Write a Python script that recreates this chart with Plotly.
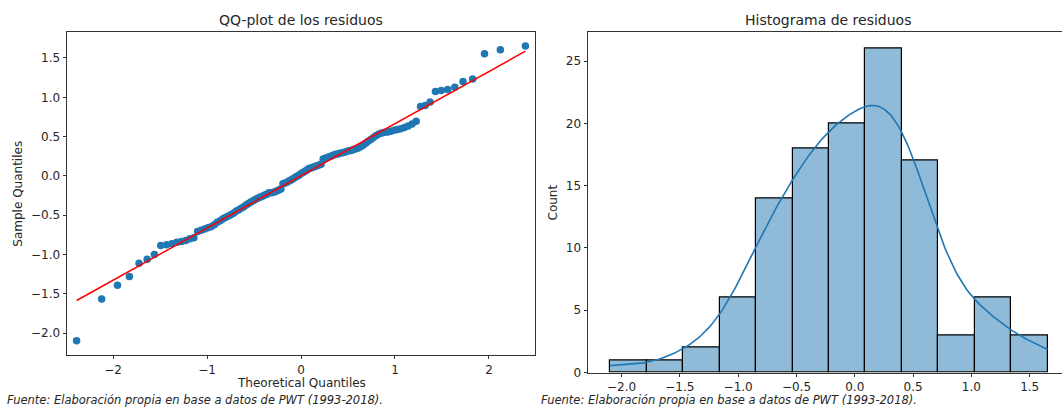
import numpy as np
import plotly.graph_objects as go
from statistics import NormalDist

# Sorted model residuals (n = 117)
residuals = [
    -2.095, -1.566, -1.39, -1.28, -1.11, -1.06, -1.00, -0.885, -0.875, -0.862,
    -0.842, -0.835, -0.822, -0.80, -0.785, -0.705, -0.69, -0.675, -0.66, -0.645,
    -0.62, -0.59, -0.57, -0.545,
    -0.525, -0.51, -0.49, -0.47, -0.445, -0.43, -0.41, -0.39, -0.37, -0.35,
    -0.33, -0.315, -0.30, -0.285, -0.27, -0.26, -0.245, -0.235,
    -0.218, -0.215, -0.21, -0.20, -0.19, -0.18, -0.165, -0.10, -0.09, -0.08,
    -0.065, -0.05, -0.035, -0.02, -0.005, 0.01, 0.03, 0.045, 0.06, 0.075,
    0.094, 0.10, 0.11, 0.12, 0.13, 0.14, 0.15, 0.215, 0.225, 0.235,
    0.245, 0.255, 0.265, 0.275, 0.28, 0.29, 0.295, 0.30, 0.31, 0.32,
    0.325, 0.335, 0.345, 0.355, 0.37, 0.39,
    0.415, 0.44, 0.465, 0.49, 0.515, 0.535, 0.545, 0.555, 0.56, 0.57,
    0.58, 0.59, 0.60, 0.615, 0.635, 0.66, 0.695,
    0.883, 0.896, 0.942,
    1.075, 1.088, 1.10, 1.129, 1.20, 1.233,
    1.554, 1.604, 1.654,
]
n_bins = 12

title_qq = "QQ-plot de los residuos"
title_hist = "Histograma de residuos"
source_note = "Fuente: Elaboración propia en base a datos de PWT (1993-2018)."

W, H = 1062, 412
FONT = "DejaVu Sans"
TXT = "#262626"
BLUE = "#1f77b4"

r = np.sort(np.asarray(residuals, dtype=float))
n = r.size

# Theoretical normal quantiles, plotting positions i/(n+1)
nd = NormalDist()
theo = np.array([nd.inv_cdf(i / (n + 1)) for i in range(1, n + 1)])

# Standardized reference line: mean + std * q
mu, sd = r.mean(), r.std(ddof=1)
line_x = np.array([theo[0], theo[-1]])
line_y = mu + sd * line_x

# Histogram counts and KDE scaled to counts
counts, edges = np.histogram(r, bins=n_bins)
centers = 0.5 * (edges[:-1] + edges[1:])
bw = edges[1] - edges[0]
h = sd * n ** (-1 / 5)
grid = np.linspace(r.min(), r.max(), 200)
dens = np.exp(-0.5 * ((grid[:, None] - r[None, :]) / h) ** 2).sum(axis=1) / (n * h * np.sqrt(2 * np.pi))
kde = dens * n * bw


def px_x(p):
    return p / W


def px_y(p):
    return 1 - p / H


fig = go.Figure()

fig.add_trace(go.Scatter(
    x=theo, y=r, mode="markers",
    marker=dict(color=BLUE, size=7.5, line=dict(width=0)),
    xaxis="x", yaxis="y", showlegend=False,
))
fig.add_trace(go.Scatter(
    x=line_x, y=line_y, mode="lines",
    line=dict(color="red", width=1.5),
    xaxis="x", yaxis="y", showlegend=False,
))

fig.add_trace(go.Bar(
    x=centers, y=counts, width=bw,
    marker=dict(color="rgba(31,119,180,0.5)", line=dict(color="black", width=1.2)),
    xaxis="x2", yaxis="y2", showlegend=False,
))
fig.add_trace(go.Scatter(
    x=grid, y=kde, mode="lines",
    line=dict(color=BLUE, width=1.6),
    xaxis="x2", yaxis="y2", showlegend=False,
))

axis_common = dict(
    showgrid=False, zeroline=False, showline=True, linecolor="#333333", linewidth=1,
    ticks="outside", ticklen=3.5, tickwidth=1, tickcolor="#333333",
    tickfont=dict(family=FONT, size=12, color=TXT),
)

fig.update_layout(
    width=W, height=H,
    margin=dict(l=0, r=0, t=0, b=0),
    paper_bgcolor="white", plot_bgcolor="white",
    bargap=0,
    xaxis=dict(axis_common, domain=[px_x(67), px_x(535)], range=[-2.49, 2.49],
               tick0=0, dtick=1, mirror=True, anchor="y"),
    yaxis=dict(axis_common, domain=[px_y(361), px_y(33)], range=[-2.275, 1.825],
               tick0=0, dtick=0.5, tickformat=".1f", mirror=True, anchor="x"),
    xaxis2=dict(axis_common, domain=[px_x(588), 1.0], range=[-2.2875, 1.777],
                tick0=0, dtick=0.5, tickformat=".1f", mirror=True, anchor="y2"),
    yaxis2=dict(axis_common, domain=[px_y(379), px_y(33)], range=[0, 27.3],
                tick0=0, dtick=5, anchor="x2"),
)

ann = [
    dict(text=title_qq, x=px_x(301), y=px_y(20), size=14),
    dict(text=title_hist, x=px_x(828), y=px_y(20), size=14),
    dict(text="Theoretical Quantiles", x=px_x(301), y=px_y(390), size=12),
    dict(text="Sample Quantiles", x=px_x(18), y=px_y(197), size=12, angle=-90),
    dict(text="Count", x=px_x(552), y=px_y(206), size=12, angle=-90),
]
for a in ann:
    fig.add_annotation(
        text=a["text"], x=a["x"], y=a["y"], xref="paper", yref="paper",
        xanchor="center", yanchor="middle", showarrow=False,
        textangle=a.get("angle", 0),
        font=dict(family=FONT, size=a["size"], color=TXT),
    )

for x0 in (5, 539):
    fig.add_annotation(
        text=f"<i>{source_note}</i>", x=px_x(x0), y=px_y(407), xref="paper", yref="paper",
        xanchor="left", yanchor="middle", showarrow=False,
        font=dict(family=FONT, size=11.5, color=TXT),
    )

fig.write_html("out.html")

# Page without body margin or scrollbars so the figure fills the window exactly
with open("out.html", encoding="utf-8") as fh:
    page = fh.read()
page = page.replace(
    "<head>",
    "<head><style>html,body{margin:0;padding:0;overflow:hidden;}</style>",
    1,
)
with open("out.html", "w", encoding="utf-8") as fh:
    fh.write(page)
